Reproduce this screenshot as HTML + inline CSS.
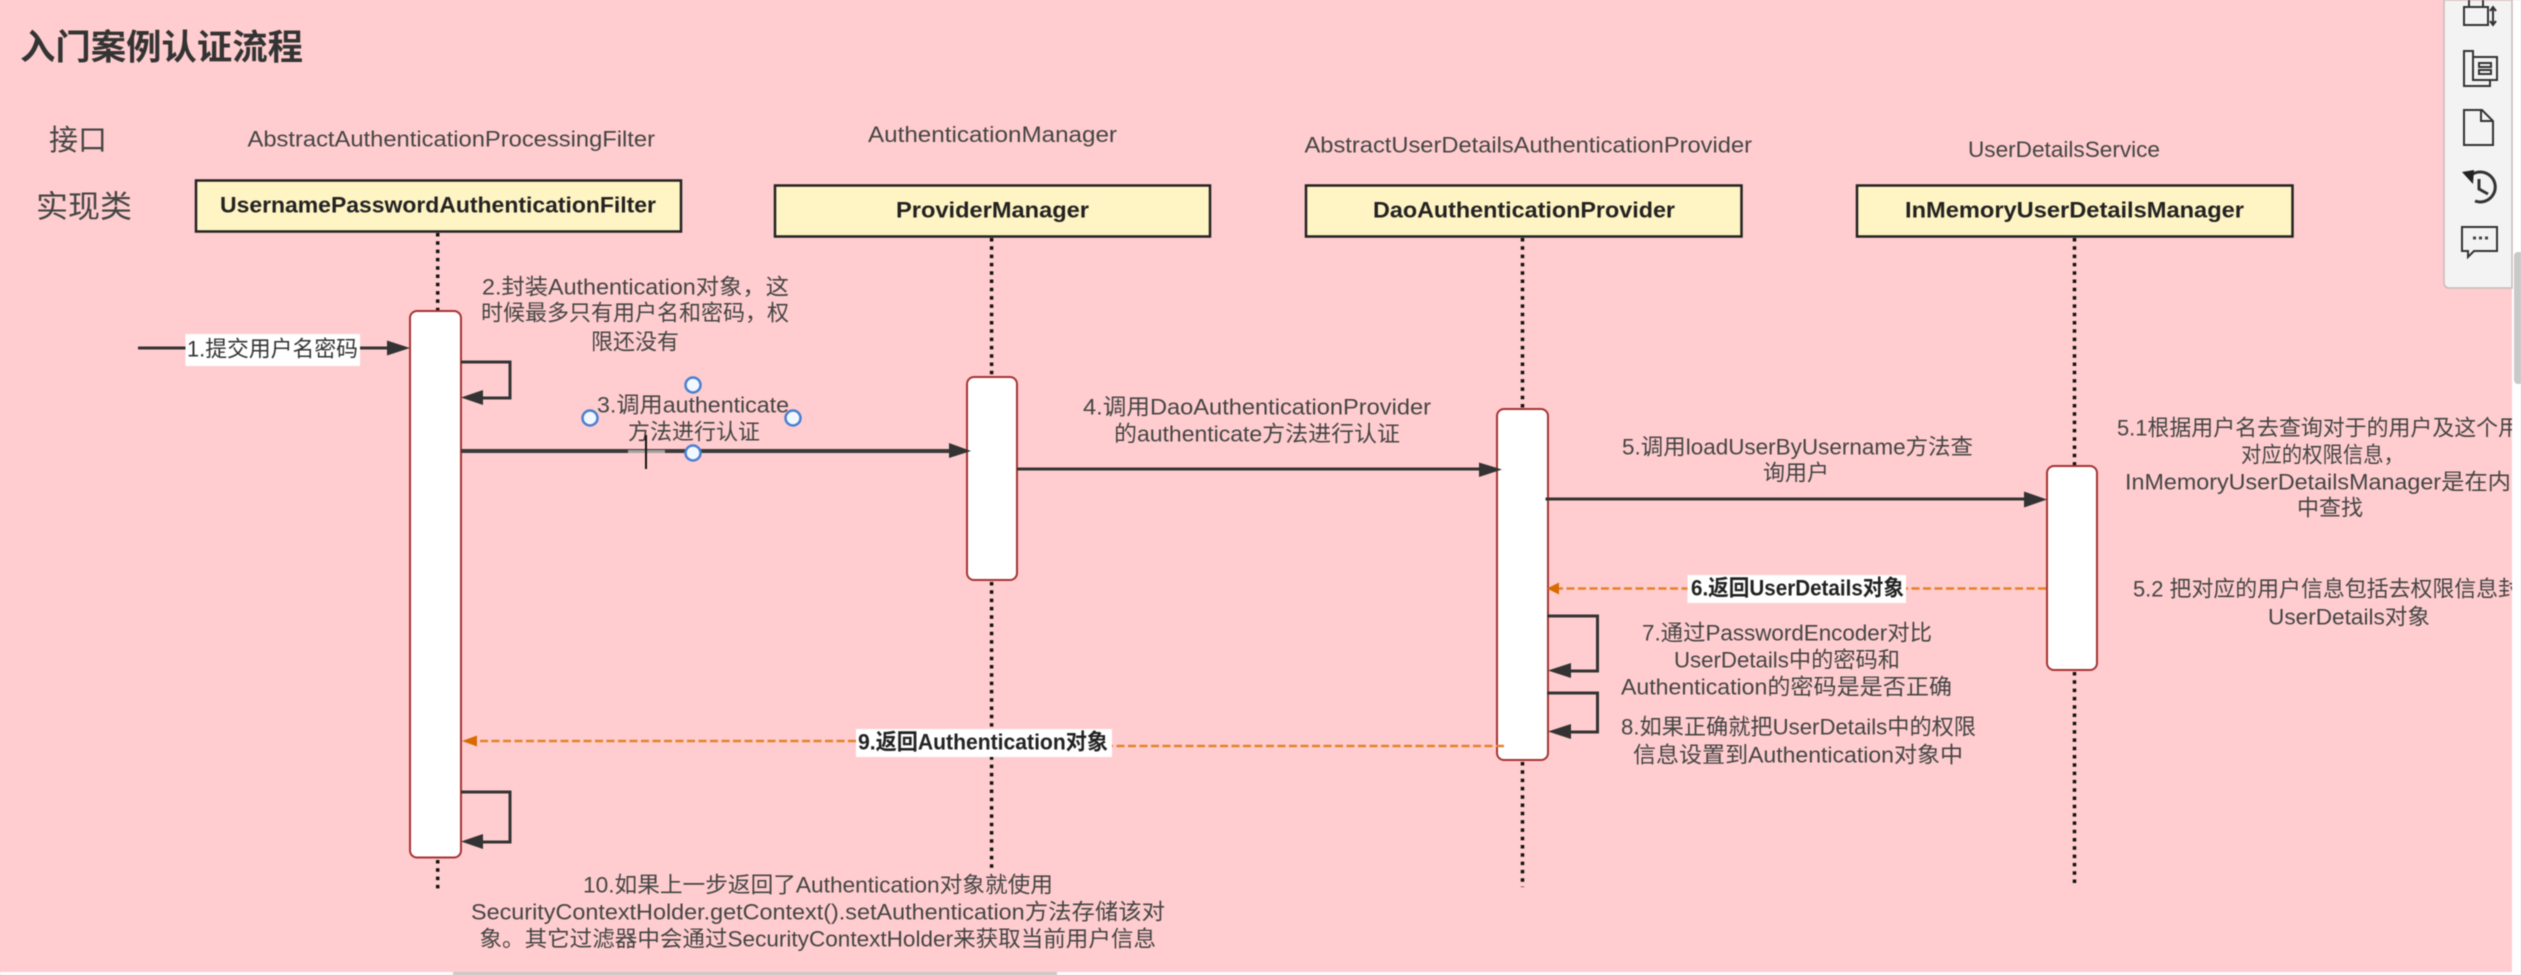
<!DOCTYPE html>
<html lang="zh">
<head>
<meta charset="utf-8">
<title>入门案例认证流程</title>
<style>
html,body{margin:0;padding:0;width:2521px;height:975px;overflow:hidden;background:#ffcdcf}
svg{display:block;position:absolute;left:0;top:0;filter:blur(0.5px)}
text{font-family:"Liberation Sans","Noto Sans CJK SC",sans-serif;font-size:22px;fill:#444;dominant-baseline:central}
.b{font-weight:bold;fill:#222}
.life{stroke:#111;stroke-width:3.5;stroke-dasharray:3.500 4.800;fill:none}
.box{fill:#fff4c3;stroke:#222;stroke-width:2.5}
.act{fill:#fff;stroke:#a83232;stroke-width:2}
.msg{stroke:#333;stroke-width:3;fill:none}
.ah{fill:#333}
.dash{stroke:#e5822a;stroke-width:2.5;stroke-dasharray:8 3.5;fill:none}
.oh{fill:#d96a00}
.h{fill:#f2f8ff;stroke:#4a7fd0;stroke-width:2.5}
.ic{fill:none;stroke:#333;stroke-width:2}
</style>
</head>
<body>
<svg width="2521" height="975" viewBox="0 0 2521 975" xmlns="http://www.w3.org/2000/svg">
<rect width="2521" height="975" fill="#ffcdcf"/>

<text x="20" y="48" textLength="283" lengthAdjust="spacingAndGlyphs" class="b" style="font-size:35px;fill:#333">入门案例认证流程</text>
<text x="49" y="141" textLength="58" lengthAdjust="spacingAndGlyphs" style="font-size:29px">接口</text>
<text x="36" y="207" textLength="96" lengthAdjust="spacingAndGlyphs" style="font-size:31px">实现类</text>

<text x="247.5" y="139" textLength="407.5" lengthAdjust="spacingAndGlyphs">AbstractAuthenticationProcessingFilter</text>
<text x="868" y="134.500" textLength="249" lengthAdjust="spacingAndGlyphs">AuthenticationManager</text>
<text x="1304.5" y="145" textLength="447.5" lengthAdjust="spacingAndGlyphs">AbstractUserDetailsAuthenticationProvider</text>
<text x="1968" y="149.500" textLength="192" lengthAdjust="spacingAndGlyphs">UserDetailsService</text>

<path class="life" d="M437.7 233V311M437.7 860V890"/>
<path class="life" d="M991.6 238V375M991.6 582V872"/>
<path class="life" d="M1522.5 238V408M1522.5 762V887"/>
<path class="life" d="M2074.5 238V465M2074.5 672V887"/>

<rect class="box" x="196" y="180.500" width="485" height="51"/>
<rect class="box" x="775" y="185.500" width="435" height="51"/>
<rect class="box" x="1306" y="185.500" width="435.500" height="51"/>
<rect class="box" x="1857" y="185.500" width="435.500" height="51"/>
<text class="b" x="220" y="205" textLength="436" lengthAdjust="spacingAndGlyphs">UsernamePasswordAuthenticationFilter</text>
<text class="b" x="896" y="210" textLength="193" lengthAdjust="spacingAndGlyphs">ProviderManager</text>
<text class="b" x="1373" y="210" textLength="302" lengthAdjust="spacingAndGlyphs">DaoAuthenticationProvider</text>
<text class="b" x="1905" y="210" textLength="339" lengthAdjust="spacingAndGlyphs">InMemoryUserDetailsManager</text>

<rect class="act" x="410" y="311" width="51" height="546.500" rx="7"/>
<rect class="act" x="967" y="377" width="50" height="203" rx="7"/>
<rect class="act" x="1497" y="409" width="51" height="351" rx="7"/>
<rect class="act" x="2047" y="466" width="50" height="204" rx="7"/>

<!-- message 1 -->
<path class="msg" d="M138 348H390"/>
<polygon class="ah" points="387,340.500 410,348 387,355.500"/>
<rect x="185.500" y="334" width="174.500" height="32" fill="#fff"/>
<text x="187" y="349" textLength="171" lengthAdjust="spacingAndGlyphs" style="fill:#333">1.提交用户名密码</text>

<!-- message 2 -->
<path class="msg" d="M461 362H510V398H480"/>
<polygon class="ah" points="483,390 461,397.500 483,405"/>
<text x="482" y="287" textLength="307" lengthAdjust="spacingAndGlyphs">2.封装Authentication对象，这</text>
<text x="481" y="313" textLength="308" lengthAdjust="spacingAndGlyphs">时候最多只有用户名和密码，权</text>
<text x="591" y="342" textLength="88" lengthAdjust="spacingAndGlyphs">限还没有</text>

<!-- message 3 -->
<text x="597" y="405" textLength="192" lengthAdjust="spacingAndGlyphs">3.调用authenticate</text>
<text x="628" y="432" textLength="132" lengthAdjust="spacingAndGlyphs">方法进行认证</text>
<path d="M461 451H952" stroke="#3a3a3a" stroke-width="4" fill="none"/>
<polygon class="ah" points="949,443 971,451 949,458"/>
<rect x="628" y="450" width="37" height="3" fill="#a8a0a0"/>
<path d="M646 435V469" stroke="#111" stroke-width="2"/>
<circle class="h" cx="693" cy="385" r="7.500"/>
<circle class="h" cx="590" cy="418" r="7.500"/>
<circle class="h" cx="793" cy="418" r="7.500"/>
<circle class="h" cx="693" cy="453" r="7.500"/>

<!-- message 4 -->
<text x="1083" y="407" textLength="348" lengthAdjust="spacingAndGlyphs">4.调用DaoAuthenticationProvider</text>
<text x="1114" y="434" textLength="286" lengthAdjust="spacingAndGlyphs">的authenticate方法进行认证</text>
<path class="msg" d="M1017 469H1482"/>
<polygon class="ah" points="1479,462.500 1502,469.500 1479,477"/>

<!-- message 5 -->
<text x="1622" y="447" textLength="351" lengthAdjust="spacingAndGlyphs">5.调用loadUserByUsername方法查</text>
<text x="1763" y="473" textLength="66" lengthAdjust="spacingAndGlyphs">询用户</text>
<path class="msg" d="M1545.500 499H2027"/>
<polygon class="ah" points="2024,491.500 2047,499.500 2024,507.500"/>

<!-- 5.1 / 5.2 -->
<text x="2117" y="428" textLength="403" lengthAdjust="spacingAndGlyphs">5.1根据用户名去查询对于的用户及这个用</text>
<text x="2241" y="455" textLength="163" lengthAdjust="spacingAndGlyphs">对应的权限信息，</text>
<text x="2125" y="482" textLength="386" lengthAdjust="spacingAndGlyphs">InMemoryUserDetailsManager是在内</text>
<text x="2297" y="508" textLength="66" lengthAdjust="spacingAndGlyphs">中查找</text>
<text x="2133" y="589" textLength="387" lengthAdjust="spacingAndGlyphs">5.2 把对应的用户信息包括去权限信息封</text>
<text x="2268" y="617" textLength="162" lengthAdjust="spacingAndGlyphs">UserDetails对象</text>

<!-- message 6 -->
<path class="dash" d="M2046 588.500H1556"/>
<polygon class="oh" points="1559,582.500 1547,588.500 1559,594.500"/>
<rect x="1687.500" y="575" width="218.500" height="28" fill="#fff"/>
<text class="b" x="1691" y="588" textLength="213" lengthAdjust="spacingAndGlyphs">6.返回UserDetails对象</text>

<!-- message 7 -->
<path class="msg" d="M1547 616H1597.500V671H1568"/>
<polygon class="ah" points="1571,663 1548,670.500 1571,678"/>
<text x="1642" y="633" textLength="290" lengthAdjust="spacingAndGlyphs">7.通过PasswordEncoder对比</text>
<text x="1674" y="660" textLength="226" lengthAdjust="spacingAndGlyphs">UserDetails中的密码和</text>
<text x="1621" y="687" textLength="331" lengthAdjust="spacingAndGlyphs">Authentication的密码是是否正确</text>

<!-- message 8 -->
<path class="msg" d="M1547 693H1597.500V732H1568"/>
<polygon class="ah" points="1571,724 1548,731.500 1571,739"/>
<text x="1621" y="727" textLength="355" lengthAdjust="spacingAndGlyphs">8.如果正确就把UserDetails中的权限</text>
<text x="1633" y="755" textLength="330" lengthAdjust="spacingAndGlyphs">信息设置到Authentication对象中</text>

<!-- message 9 -->
<path class="dash" d="M1504 746H1112M856 741H475"/>
<polygon class="oh" points="477,735.500 462,741 477,746.500"/>
<rect x="856" y="729" width="256" height="28" fill="#fff"/>
<text class="b" x="858" y="742" textLength="250" lengthAdjust="spacingAndGlyphs">9.返回Authentication对象</text>

<!-- message 10 -->
<path class="msg" d="M461 792H510V842H480"/>
<polygon class="ah" points="483,834 461,841.500 483,849"/>
<text x="583" y="885" textLength="470" lengthAdjust="spacingAndGlyphs">10.如果上一步返回了Authentication对象就使用</text>
<text x="471" y="912" textLength="694" lengthAdjust="spacingAndGlyphs">SecurityContextHolder.getContext().setAuthentication方法存储该对</text>
<text x="479.500" y="939" textLength="676.500" lengthAdjust="spacingAndGlyphs">象。其它过滤器中会通过SecurityContextHolder来获取当前用户信息</text>

<!-- toolbar panel -->
<rect x="2512" y="0" width="9" height="975" fill="#fff"/>
<path d="M2444 0V283a5 5 0 0 0 5 5H2512V0Z" fill="#f3f3f3" stroke="#c9b9b9" stroke-width="1.500"/>
<rect x="2514" y="252" width="9" height="132" rx="4" fill="#c9c9c9"/>

<path class="ic" d="M2464 7H2488V25H2464ZM2469 0V6M2483 0V6"/>
<path class="ic" d="M2493 8V24M2490 11L2493 7L2496 11M2490 21L2493 25L2496 21"/>
<path class="ic" d="M2473 57V51H2464V86H2490V80"/>
<path class="ic" d="M2473 57H2497V80H2473Z"/>
<path class="ic" d="M2479 63H2491V67H2479ZM2479 70H2491V74H2479Z"/>
<path class="ic" d="M2464 110H2482L2493 121V145H2464ZM2481 110V121H2493"/>
<path class="ic" style="stroke-width:3" d="M2470 176A15 15 0 1 1 2475 201M2479 179V189L2488 194"/>
<polygon points="2462,172 2474,170 2473,184" fill="#222"/>
<path class="ic" d="M2462 227H2497V251H2474L2468 257V251H2462Z"/>
<path d="M2473 238H2489" stroke="#444" stroke-width="3" stroke-dasharray="3 3" fill="none"/>

<!-- bottom strip -->
<rect x="0" y="972" width="2521" height="3" fill="#fff"/>
<rect x="453" y="972" width="604" height="3" fill="#c9c9c9"/>
</svg>
</body>
</html>
